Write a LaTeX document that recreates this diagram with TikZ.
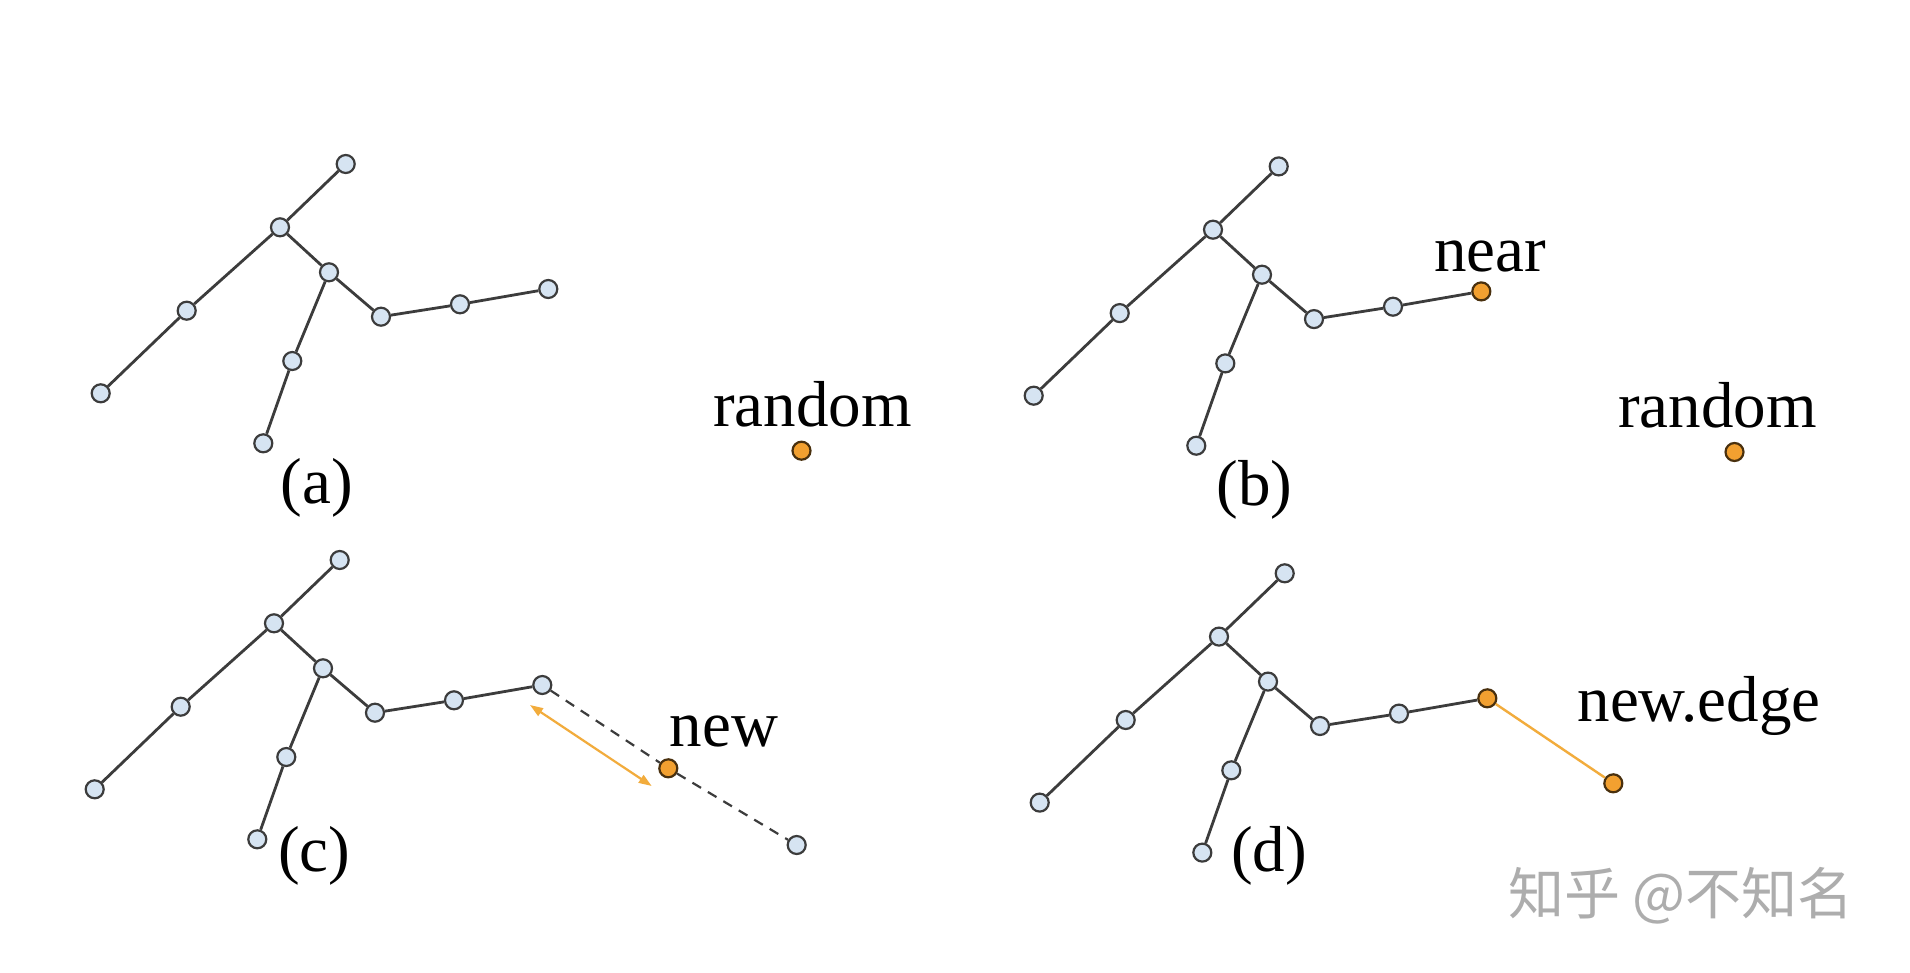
\documentclass[tikz,border=0pt]{standalone}
\usepackage{fontspec}
\setmainfont{Liberation Serif}
\newfontfamily\cjkfont{Noto Sans CJK SC}
\usetikzlibrary{arrows.meta}
\definecolor{dotblue}{RGB}{214,228,242}
\definecolor{dotorange}{RGB}{242,160,48}
\definecolor{edgegray}{RGB}{60,60,60}
\definecolor{arroworange}{RGB}{242,172,60}
\tikzset{
  bluedot/.style={circle,draw=edgegray,fill=dotblue,line width=2.2pt,minimum size=18pt,inner sep=0pt},
  orangedot/.style={bluedot,fill=dotorange,draw=black!70!dotorange},
  treeedge/.style={draw=edgegray,line width=2.8pt},
  caption/.style={font=\fontsize{65}{70}\selectfont,anchor=base,inner sep=0pt},
}
% one tree: name prefix, shift x, shift y, style of the end node
\newcommand{\drawtree}[4]{%
\begin{scope}[shift={(#2,#3)}]
\node[bluedot] (#1t) at (345.7,164) {};
\node[bluedot] (#1h) at (280,227.3) {};
\node[bluedot] (#1k) at (329,272.3) {};
\node[bluedot] (#1r1) at (381,316.7) {};
\node[bluedot] (#1r2) at (460,304.3) {};
\node[#4] (#1e) at (548.3,289) {};
\node[bluedot] (#1l1) at (186.7,310.7) {};
\node[bluedot] (#1l2) at (100.7,393.3) {};
\node[bluedot] (#1d1) at (292.3,361) {};
\node[bluedot] (#1d2) at (263.3,443.3) {};
\draw[treeedge] (#1t)--(#1h)--(#1l1)--(#1l2);
\draw[treeedge] (#1h)--(#1k)--(#1r1)--(#1r2)--(#1e);
\draw[treeedge] (#1k)--(#1d1)--(#1d2);
\end{scope}}

\begin{document}
\begin{tikzpicture}[x=1pt,y=-1pt]
\useasboundingbox[fill=white] (0,0) rectangle (1910,972);

% (a)
\drawtree{a}{0}{0}{bluedot}
\node[orangedot] (arand) at (801.5,450.7) {};
\node[caption] (arandlbl) at (812.5,426) {random};
\node[caption] (alabel) at (316.7,503) {(a)};

% (b)
\drawtree{b}{933}{2.4}{orangedot}
\node[orangedot] (brand) at (1734.5,452) {};
\node[caption] (bnearlbl) at (1490,271) {near};
\node[caption] (brandlbl) at (1717.5,427) {random};
\node[caption] (blabel) at (1254.6,505) {(b)};

% (c)
\drawtree{c}{-6}{396}{bluedot}
\node[bluedot] (cfar) at (796.7,845) {};
\node[orangedot] (cnew) at (668.3,768.3) {};
\draw[treeedge,line width=2.2pt,dash pattern=on 10pt off 8pt] (ce)--(cnew)--(cfar);
\coordinate (carrs) at (530,705);
\coordinate (carre) at (651.7,786);
\draw[arroworange,line width=2.2pt,{Triangle[length=13pt,width=9pt]}-{Triangle[length=13pt,width=9pt]}] (carrs)--(carre);
\node[caption] (cnewlbl) at (724,746.7) {new};
\node[caption] (clabel) at (314.3,871) {(c)};

% (d)
\drawtree{d}{939}{409.3}{orangedot}
\node[orangedot] (dnew) at (1613.3,783.3) {};
\draw[arroworange,line width=2.4pt] (de)--(dnew);
\node[caption] (dedgelbl) at (1699,721.7) {new.edge};
\node[caption] (dlabel) at (1269,871) {(d)};

% watermark
\node[font=\cjkfont\fontsize{56}{60}\selectfont,text=black!32,inner sep=0pt] (mark) at (1681,896) {知乎 @不知名};
\end{tikzpicture}
\end{document}
